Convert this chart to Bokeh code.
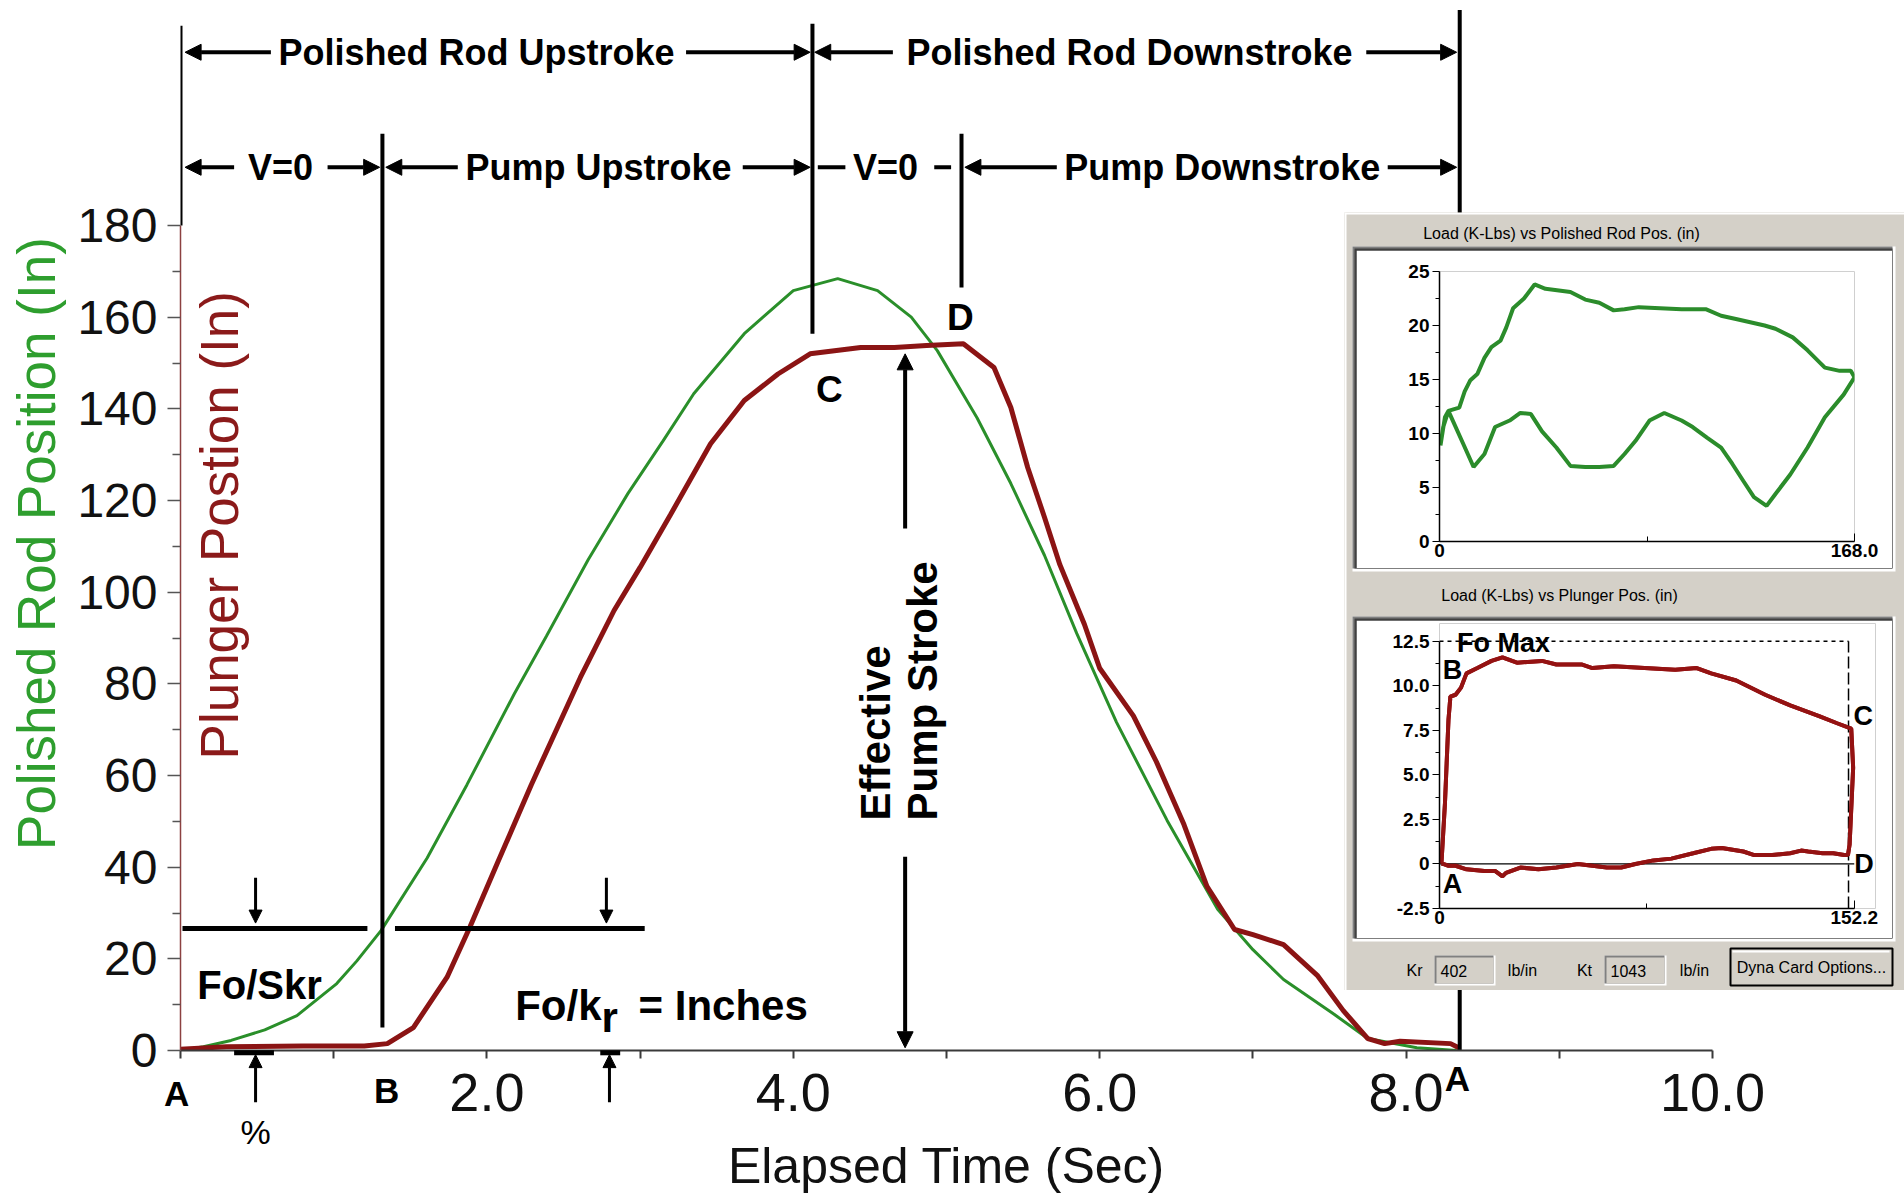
import math
from bokeh.plotting import figure
from bokeh.models import (Range1d, FixedTicker, Arrow, NormalHead, GridBox,
                          ColumnDataSource, NumeralTickFormatter)
from bokeh.core.properties import value
from bokeh.embed import file_html
from bokeh.resources import INLINE

FONT = "Liberation Sans"
GREEN = "#2a8f2a"
GREEN_LABEL = "#2e9e2e"
RED = "#8b1414"
RED_LABEL = "#8b1a1a"
GRAY = "#d4d0c8"

# ---------------- data ----------------
time_rod = [0.0, 0.15, 0.33, 0.55, 0.76, 1.02, 1.15, 1.31, 1.61, 1.87, 2.18, 2.39, 2.66,
            2.92, 3.15, 3.35, 3.68, 4.0, 4.29, 4.55, 4.77, 4.94, 5.2, 5.42, 5.64, 5.85,
            6.11, 6.44, 6.77, 7.0, 7.2, 7.53, 7.75, 8.07, 8.33]
rod_position = [0.0, 0.8, 2.2, 4.5, 7.6, 14.6, 19.5, 26.2, 42.0, 58.0, 77.9, 90.5, 107.0,
                121.5, 133.0, 143.3, 156.4, 165.8, 168.4, 165.8, 160.0, 152.7, 138.0, 123.7,
                108.0, 91.0, 71.6, 50.2, 30.8, 22.0, 15.5, 7.9, 2.6, 0.6, 0.0]

time_plunger = [0.0, 0.3, 0.8, 1.2, 1.35, 1.52, 1.74, 1.89, 2.07, 2.29, 2.61, 2.83, 3.0,
                3.2, 3.46, 3.68, 3.9, 4.11, 4.44, 4.66, 4.87, 5.11, 5.31, 5.42, 5.53, 5.64,
                5.74, 5.9, 6.0, 6.22, 6.37, 6.55, 6.7, 6.88, 7.0, 7.2, 7.42, 7.59, 7.75,
                7.86, 7.96, 8.29, 8.35]
plunger_position = [0.3, 0.8, 1.0, 1.0, 1.5, 5.0, 16.0, 27.0, 41.0, 58.0, 81.4, 96.0, 105.4,
                    117.0, 132.4, 141.8, 147.6, 152.0, 153.4, 153.4, 153.8, 154.2, 149.0,
                    140.3, 127.2, 116.3, 106.0, 93.0, 83.4, 73.0, 63.0, 49.3, 35.8, 26.4,
                    25.3, 23.1, 16.4, 8.7, 2.6, 1.5, 2.0, 1.5, 0.5]

x_major_ticks = [2, 4, 6, 8, 10]
x_minor_ticks = [0, 1, 3, 5, 7, 9]
y_major_ticks = [0, 20, 40, 60, 80, 100, 120, 140, 160, 180]
y_minor_ticks = [10, 30, 50, 70, 90, 110, 130, 150, 170]

# event times (s): A, B, C, D, A
event_times = [0.0, 1.318, 4.125, 5.098, 8.35]

# Dyna card 1: load (K-Lbs) vs polished rod position (in)
card1_pos = [0.4, 2.2, 3.6, 8.0, 10.2, 12.4, 15.3, 18.2, 21.0, 24.7, 27.0, 29.8, 34.2, 38.5,
             42.9, 53.0, 59.0, 64.7, 70.5, 74.9, 80.7, 98.0, 108.0, 114.0, 120.0, 131.6,
             136.0, 143.0, 149.0, 156.0, 162.0, 166.5, 168.0, 163.6, 156.0, 149.0, 142.0,
             136.0, 132.4, 127.3, 123.0, 118.5, 114.0, 108.4, 102.5, 98.0, 91.0, 85.0, 79.3,
             74.9, 70.5, 64.7, 59.0, 53.0, 47.3, 41.5, 37.0, 32.7, 28.4, 22.5, 18.2, 13.8,
             9.5, 3.6, 1.5, 0.4]
card1_load = [8.9, 11.5, 12.1, 12.4, 13.9, 14.9, 15.5, 17.0, 18.0, 18.6, 19.8, 21.6, 22.5,
              23.8, 23.4, 23.1, 22.4, 22.1, 21.4, 21.5, 21.7, 21.5, 21.5, 20.9, 20.6, 20.0,
              19.7, 18.9, 17.7, 16.1, 15.8, 15.8, 15.2, 13.6, 11.5, 8.7, 6.2, 4.4, 3.3, 4.1,
              5.6, 7.2, 8.7, 9.6, 10.6, 11.2, 11.9, 11.2, 9.3, 8.1, 7.0, 6.9, 6.9, 7.0, 8.7,
              10.2, 11.8, 11.9, 11.2, 10.6, 8.1, 6.9, 9.1, 12.1, 10.6, 8.9]

# Dyna card 2: load (K-Lbs) vs plunger position (in)
card2_pos = [0.7, 2.0, 3.3, 4.0, 5.9, 7.9, 9.9, 13.9, 19.1, 23.1, 28.4, 37.6, 42.9, 52.1,
             56.1, 64.0, 86.5, 94.4, 99.7, 108.9, 119.5, 128.7, 139.3, 145.9, 151.1, 151.8,
             150.5, 149.9, 148.5, 144.5, 140.6, 135.3, 132.7, 128.7, 122.1, 115.5, 111.5,
             103.6, 99.7, 93.1, 85.1, 78.5, 71.9, 66.7, 61.4, 56.1, 50.8, 42.9, 36.3, 29.7,
             24.4, 23.1, 20.5, 16.5, 9.9, 5.9, 3.3, 1.3, 0.7]
card2_load = [0.0, 3.4, 8.1, 9.4, 9.5, 9.9, 10.7, 11.0, 11.4, 11.6, 11.3, 11.4, 11.2, 11.2,
              11.0, 11.1, 10.9, 11.0, 10.7, 10.3, 9.5, 8.9, 8.3, 7.9, 7.6, 5.4, 1.1, 0.5,
              0.5, 0.6, 0.6, 0.7, 0.75, 0.6, 0.5, 0.5, 0.7, 0.9, 0.85, 0.6, 0.3, 0.2, 0.0,
              -0.2, -0.2, -0.1, 0.0, -0.2, -0.3, -0.2, -0.5, -0.7, -0.4, -0.4, -0.3, -0.1,
              -0.1, 0.0, 0.0]

card1_y_ticks = [0, 5, 10, 15, 20, 25]
card1_y_minor = [2.5, 7.5, 12.5, 17.5, 22.5]
card1_x_ticks = [0, 168]
card1_x_minor = [84]
card2_y_ticks = [-2.5, 0, 2.5, 5, 7.5, 10, 12.5]
card2_y_minor = [-1.25, 1.25, 3.75, 6.25, 8.75, 11.25]
card2_x_ticks = [0, 152.2]
card2_x_minor = [76.1]
fo_max = 12.5
card2_stroke_end = 150.1
kr_value = "402"
kt_value = "1043"

# ---------------- geometry of the main chart ----------------
W, H = 1904, 1202
X_PX = 153.2          # px per second
Y_PX = 1045 / 228.0   # px per inch
FRAME_L, FRAME_B = 180, 1050

# ---------------- main figure ----------------
p = figure(width=W, height=H, x_range=Range1d(0, 10), y_range=Range1d(0, 228.0),
           output_backend="svg", toolbar_location=None,
           min_border_left=180, min_border_right=192, min_border_top=5, min_border_bottom=152,
           background_fill_color="white", border_fill_color="white", outline_line_color=None)
p.grid.visible = False

xa = p.xaxis[0]
xa.ticker = FixedTicker(ticks=x_major_ticks, minor_ticks=x_minor_ticks)
xa.formatter = NumeralTickFormatter(format="0.0")
xa.bounds = (0, 10)
xa.axis_line_color = "#3a3a3a"
xa.axis_line_width = 2
xa.major_tick_out = 8
xa.major_tick_in = 0
xa.minor_tick_out = 8
xa.minor_tick_in = 0
xa.major_tick_line_color = "#3a3a3a"
xa.minor_tick_line_color = "#3a3a3a"
xa.major_tick_line_width = 2
xa.minor_tick_line_width = 2
xa.major_label_text_font = FONT
xa.major_label_text_font_size = "54px"
xa.major_label_text_color = "#111111"
xa.major_label_standoff = 15

ya = p.yaxis[0]
ya.ticker = FixedTicker(ticks=y_major_ticks, minor_ticks=y_minor_ticks)
ya.bounds = (0, 180)
ya.axis_line_color = "#8c4040"
ya.axis_line_width = 1.5
ya.major_tick_out = 13
ya.major_tick_in = 0
ya.minor_tick_out = 8
ya.minor_tick_in = 0
ya.major_tick_line_color = "#555555"
ya.minor_tick_line_color = "#555555"
ya.major_tick_line_width = 1.5
ya.minor_tick_line_width = 1.5
ya.major_label_text_font = FONT
ya.major_label_text_font_size = "48px"
ya.major_label_text_color = "#111111"
ya.major_label_standoff = 10

# curves
p.line(time_rod, rod_position, line_color=GREEN, line_width=3)
p.line(time_plunger, plunger_position, line_color=RED, line_width=5)

# vertical event lines
vline_bottom = [180.0, 5.0, 156.4, 166.5, 0.0]
vline_top = [223.6, 200.0, 224.0, 200.0, 227.0]
p.segment(x0=event_times, y0=vline_bottom, x1=event_times, y1=vline_top,
          line_color="black", line_width=4)

ROW1 = 217.8
ROW2 = 192.7
bold = dict(text_font=value(FONT), text_font_style="bold", text_color="black",
            text_align="center", text_baseline="middle")
p.text(x=[1.932, 6.195], y=[ROW1, ROW1],
       text=["Polished Rod Upstroke", "Polished Rod Downstroke"], text_font_size="36px", **bold)
p.text(x=[0.653, 2.728, 4.602, 6.80], y=[ROW2] * 4,
       text=["V=0", "Pump Upstroke", "V=0", "Pump Downstroke"], text_font_size="36px", **bold)


def arrows(fig, x0, y0, x1, y1, width=4, size=16):
    src = ColumnDataSource(dict(x0=x0, y0=y0, x1=x1, y1=y1))
    fig.add_layout(Arrow(x_start="x0", y_start="y0", x_end="x1", y_end="y1", source=src,
                         line_width=width, line_color="black",
                         end=NormalHead(size=size, fill_color="black", line_color="black",
                                        line_width=1)))


arrows(p, [0.59, 3.30, 4.65, 7.74], [ROW1] * 4, [0.03, 4.11, 4.14, 8.33], [ROW1] * 4)
arrows(p, [0.35, 0.96, 1.81, 3.67, 5.72, 7.88], [ROW2] * 6,
       [0.03, 1.30, 1.34, 4.11, 5.12, 8.33], [ROW2] * 6)
p.segment(x0=[4.16, 4.92], y0=[ROW2, ROW2], x1=[4.34, 5.03], y1=[ROW2, ROW2],
          line_color="black", line_width=4)

# Fo / Skr and Fo/kr markers
FO = 26.6
p.segment(x0=[0.013, 1.40], y0=[FO, FO], x1=[1.22, 3.03], y1=[FO, FO],
          line_color="black", line_width=5)
arrows(p, [0.49, 2.78], [37.7, 37.7], [0.49, 2.78], [27.8, 27.8], width=3, size=13)

p.text(x=[0.516], y=[14.2], text=["Fo/Skr"], text_font_size="40px", **bold)
lab = dict(text_font=value(FONT), text_font_style="bold", text_font_size="42px",
           text_color="black", text_baseline="alphabetic")
p.text(x=[2.748], y=[9.8], text=["Fo/k"], text_align="right", **lab)
p.text(x=[2.748], y=[7.2], text=["r"], text_align="left", **lab)
p.text(x=[2.99], y=[9.8], text=["= Inches"], text_align="left", **lab)

# C / D labels
p.text(x=[4.236, 5.09], y=[144.2, 160.0], text=["C", "D"], text_font_size="37px", **bold)

# Effective pump stroke
arrows(p, [4.73], [113.9], [4.73], [152.0])
arrows(p, [4.73], [42.3], [4.73], [0.6])
p.text(x=[4.537, 4.843], y=[50.2, 50.2], text=["Effective", "Pump Stroke"],
       angle=math.pi / 2, text_font=value(FONT), text_font_style="bold", text_color="black",
       text_font_size="42px", text_align="left", text_baseline="middle")

# plunger axis title (inside frame)
p.text(x=[0.255], y=[114.6], text=["Plunger Postion (In)"], angle=math.pi / 2,
       text_font=value(FONT), text_font_size="53px", text_color=RED_LABEL,
       text_align="center", text_baseline="middle")

# ---------------- transparent overlay with the same scales, whole canvas ----------------
ov = figure(width=W, height=H,
            x_range=Range1d(-FRAME_L / X_PX, (W - FRAME_L) / X_PX),
            y_range=Range1d(-(H - FRAME_B) / Y_PX, FRAME_B / Y_PX),
            x_axis_type=None, y_axis_type=None, output_backend="svg", toolbar_location=None,
            min_border=0, background_fill_color=None, border_fill_color=None,
            outline_line_color=None)
ov.grid.visible = False
ov.text(x=[-0.94], y=[110.6], text=["Polished Rod Position (In)"], angle=math.pi / 2,
        text_font=value(FONT), text_font_size="53px", text_color=GREEN_LABEL,
        text_align="center", text_baseline="middle")
ov.text(x=[5.0], y=[-25.3], text=["Elapsed Time (Sec)"], text_font=value(FONT),
        text_font_size="50px", text_color="#111111", text_align="center",
        text_baseline="middle")
ov.text(x=[-0.026, 1.345, 8.335], y=[-9.4, -8.7, -6.1], text=["A", "B", "A"],
        text_font_size="35px", **bold)
ov.text(x=[0.49], y=[-17.7], text=["%"], text_font=value(FONT), text_font_size="34px",
        text_color="black", text_align="center", text_baseline="middle")
arrows(ov, [0.49, 2.80], [-11.3, -11.3], [0.49, 2.80], [-0.9, -0.9], width=3, size=13)
ov.segment(x0=[0.35, 2.74], y0=[-0.5, -0.5], x1=[0.61, 2.87], y1=[-0.5, -0.5],
           line_color="black", line_width=5)


# ---------------- dyna card insets ----------------
def make_card(pos, load, xr, yr, yt, ym, xt, xm, color, bt, bb, br):
    f = figure(width=536, height=318, x_range=Range1d(*xr), y_range=Range1d(*yr),
               output_backend="svg", toolbar_location=None,
               min_border_left=83, min_border_right=br, min_border_top=bt, min_border_bottom=bb,
               background_fill_color="white", border_fill_color="white",
               outline_line_color=None)
    f.grid.visible = False
    for ax in (f.xaxis[0], f.yaxis[0]):
        ax.axis_line_color = "black"
        ax.axis_line_width = 1.5
        ax.major_tick_line_color = "black"
        ax.minor_tick_line_color = "black"
        ax.major_label_text_font = FONT
        ax.major_label_text_font_style = "bold"
        ax.major_label_text_font_size = "19px"
        ax.major_label_text_color = "black"
    fx, fy = f.xaxis[0], f.yaxis[0]
    fx.ticker = FixedTicker(ticks=xt, minor_ticks=xm)
    fx.bounds = (xt[0], xt[-1])
    fx.major_tick_in = 8
    fx.major_tick_out = 0
    fx.minor_tick_in = 5
    fx.minor_tick_out = 0
    fx.major_label_standoff = 2
    fy.ticker = FixedTicker(ticks=yt, minor_ticks=ym)
    fy.bounds = (yt[0], yt[-1])
    fy.major_tick_out = 7
    fy.major_tick_in = 0
    fy.minor_tick_out = 4
    fy.minor_tick_in = 0
    fy.major_label_standoff = 3
    f.line(pos, load, line_color=color, line_width=4)
    return f


card1 = make_card(card1_pos, card1_load, (0, 168), (0, 25), card1_y_ticks, card1_y_minor,
                  card1_x_ticks, card1_x_minor, "#2b8c2b", 21, 27, 38)
card1.xaxis[0].major_label_overrides = {168: "168.0"}

card2 = make_card(card2_pos, card2_load, (0, 160.0), (-2.5, 13.5), card2_y_ticks,
                  card2_y_minor, card2_x_ticks, card2_x_minor, "#941212", 3, 30, 17)
card2.yaxis[0].formatter = NumeralTickFormatter(format="0.0")
card2.yaxis[0].major_label_overrides = {0: "0"}
card2.line([0, 152.2], [0, 0], line_color="black", line_width=1.3)
card2.line([0, card2_stroke_end], [fo_max, fo_max], line_color="black", line_width=1.5,
           line_dash="4 4")
card2.line([card2_stroke_end, card2_stroke_end], [-2.5, fo_max], line_color="black",
           line_width=1.5, line_dash="12 4")
card2.line(card2_pos, card2_load, line_color="#941212", line_width=4)
card2.text(x=[23.5, 4.8, 155.5, 155.8, 4.8], y=[12.4, 10.9, 8.3, 0.0, -1.15],
           text=["Fo Max", "B", "C", "D", "A"], text_font_size="27px", **bold)

# ---------------- gray window panel ----------------
panel = figure(width=560, height=778, x_range=Range1d(0, 560), y_range=Range1d(778, 0),
               x_axis_type=None, y_axis_type=None, output_backend="svg",
               toolbar_location=None, min_border=0, background_fill_color=GRAY,
               border_fill_color=GRAY, outline_line_color=None)
panel.grid.visible = False
panel.quad(left=[0, 0], right=[560, 2], top=[0, 0], bottom=[2, 778], fill_color="white",
           line_color=None)
for top, bot in [(38, 356), (408, 726)]:
    panel.quad(left=[8], right=[551], top=[top - 4], bottom=[bot + 3], fill_color="white",
               line_color=None)
    panel.quad(left=[8], right=[548], top=[top - 4], bottom=[bot], fill_color="#7f7f7f",
               line_color=None)
    panel.quad(left=[10], right=[548], top=[top - 2], bottom=[bot], fill_color="#404040",
               line_color=None)
txt = dict(text_font=value(FONT), text_font_size="16px", text_color="black",
           text_baseline="middle")
panel.text(x=[217, 215], y=[21, 383],
           text=["Load (K-Lbs) vs Polished Rod Pos. (in)", "Load (K-Lbs) vs Plunger Pos. (in)"],
           text_align="center", **txt)
# bottom bar: text boxes and button
for l, r in [(90, 151), (260, 322)]:
    panel.quad(left=[l], right=[r], top=[743], bottom=[773], fill_color="white", line_color=None)
    panel.quad(left=[l], right=[r - 2], top=[743], bottom=[771], fill_color="#808080",
               line_color=None)
    panel.quad(left=[l + 2], right=[r - 2], top=[745], bottom=[771], fill_color=GRAY,
               line_color=None)
panel.quad(left=[386], right=[548], top=[736], bottom=[773], fill_color=GRAY,
           line_color="black", line_width=2)
panel.quad(left=[388], right=[545], top=[738], bottom=[740], fill_color="white", line_color=None)
panel.text(x=[70, 178, 240, 350, 467], y=[758, 758, 758, 758, 755],
           text=["Kr", "lb/in", "Kt", "lb/in", "Dyna Card Options..."],
           text_align="center", **txt)
panel.text(x=[96, 266], y=[758, 758], text=[kr_value, kt_value], text_align="left", **txt)

# grid with zero-size tracks so that no two plots share an edge line (no frame alignment)
rows = ["0px", "212px", "38px", "318px", "52px", "318px", "52px", "212px", "0px", "0px"]
cols = ["0px", "1344px", "12px", "536px", "0px", "12px", "0px", "0px"]
grid = GridBox(children=[(p, 1, 1, 8, 6), (ov, 0, 0, 10, 8), (panel, 2, 2, 5, 4),
                         (card1, 3, 3, 1, 1), (card2, 5, 3, 1, 2)],
               rows=rows, cols=cols)

open("out.html", "w").write(file_html(grid, INLINE))
